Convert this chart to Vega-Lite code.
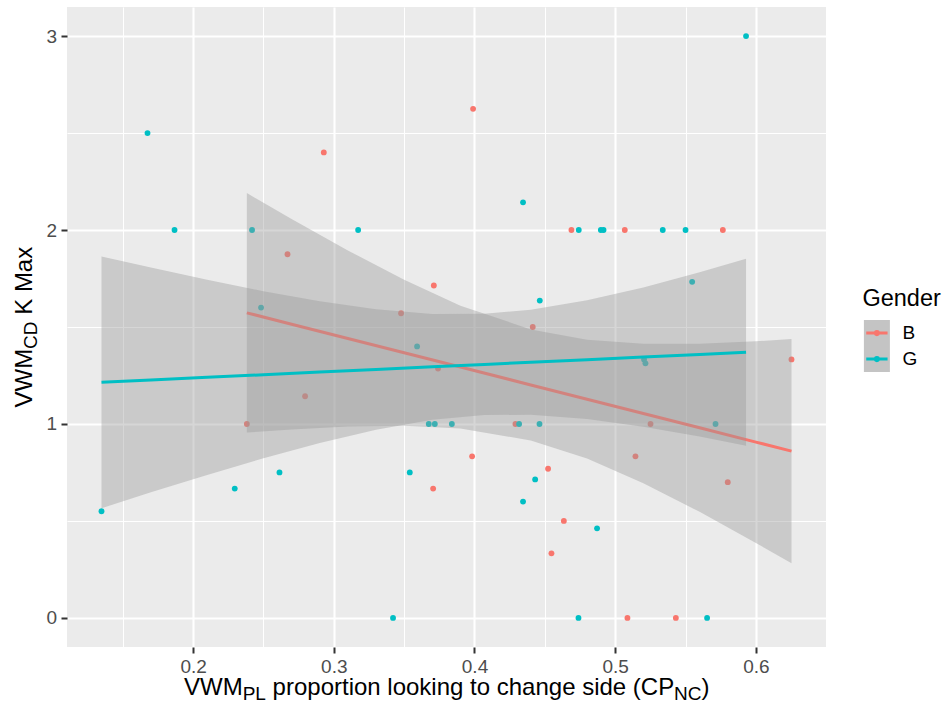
{
  "$schema": "https://vega.github.io/schema/vega-lite/v6.json",
  "width": 759,
  "height": 640,
  "autosize": {"type": "none"},
  "padding": {"left": 67, "top": 7, "right": 118, "bottom": 64},
  "background": "white",
  "config": {
    "view": {"fill": "#EBEBEB", "stroke": null},
    "font": "Liberation Sans",
    "axis": {"domain": false, "titleFontWeight": "normal", "titleColor": "black", "titleFont": "Liberation Sans", "labelFont": "Liberation Sans"},
    "legend": {"titleFont": "Liberation Sans", "labelFont": "Liberation Sans"}
  },
  "datasets": {
    "pts": [
      {"Gender": "B", "cp": 0.2382, "kmax": 1},
      {"Gender": "B", "cp": 0.2671, "kmax": 1.875},
      {"Gender": "B", "cp": 0.2796, "kmax": 1.143},
      {"Gender": "B", "cp": 0.2929, "kmax": 2.4},
      {"Gender": "B", "cp": 0.3478, "kmax": 1.571},
      {"Gender": "B", "cp": 0.3706, "kmax": 0.667},
      {"Gender": "B", "cp": 0.3711, "kmax": 1.714},
      {"Gender": "B", "cp": 0.3741, "kmax": 1.286},
      {"Gender": "B", "cp": 0.3983, "kmax": 0.833},
      {"Gender": "B", "cp": 0.399, "kmax": 2.625},
      {"Gender": "B", "cp": 0.4291, "kmax": 1},
      {"Gender": "B", "cp": 0.4414, "kmax": 1.5},
      {"Gender": "B", "cp": 0.4523, "kmax": 0.769},
      {"Gender": "B", "cp": 0.4547, "kmax": 0.333},
      {"Gender": "B", "cp": 0.4635, "kmax": 0.5},
      {"Gender": "B", "cp": 0.4689, "kmax": 2},
      {"Gender": "B", "cp": 0.5068, "kmax": 2},
      {"Gender": "B", "cp": 0.5087, "kmax": 0},
      {"Gender": "B", "cp": 0.5144, "kmax": 0.833},
      {"Gender": "B", "cp": 0.5251, "kmax": 1},
      {"Gender": "B", "cp": 0.5431, "kmax": 0},
      {"Gender": "B", "cp": 0.5765, "kmax": 2},
      {"Gender": "B", "cp": 0.58, "kmax": 0.7},
      {"Gender": "B", "cp": 0.6253, "kmax": 1.333},
      {"Gender": "G", "cp": 0.1349, "kmax": 0.55},
      {"Gender": "G", "cp": 0.1676, "kmax": 2.5},
      {"Gender": "G", "cp": 0.1868, "kmax": 2},
      {"Gender": "G", "cp": 0.2296, "kmax": 0.667},
      {"Gender": "G", "cp": 0.2419, "kmax": 2},
      {"Gender": "G", "cp": 0.2483, "kmax": 1.6},
      {"Gender": "G", "cp": 0.2614, "kmax": 0.75},
      {"Gender": "G", "cp": 0.3173, "kmax": 2},
      {"Gender": "G", "cp": 0.3421, "kmax": 0},
      {"Gender": "G", "cp": 0.354, "kmax": 0.75},
      {"Gender": "G", "cp": 0.3592, "kmax": 1.4},
      {"Gender": "G", "cp": 0.3675, "kmax": 1},
      {"Gender": "G", "cp": 0.3718, "kmax": 1},
      {"Gender": "G", "cp": 0.3839, "kmax": 1},
      {"Gender": "G", "cp": 0.4317, "kmax": 1},
      {"Gender": "G", "cp": 0.4345, "kmax": 0.6},
      {"Gender": "G", "cp": 0.4345, "kmax": 2.143},
      {"Gender": "G", "cp": 0.4431, "kmax": 0.714},
      {"Gender": "G", "cp": 0.4462, "kmax": 1},
      {"Gender": "G", "cp": 0.4464, "kmax": 1.636},
      {"Gender": "G", "cp": 0.4739, "kmax": 0},
      {"Gender": "G", "cp": 0.4741, "kmax": 2},
      {"Gender": "G", "cp": 0.4871, "kmax": 0.462},
      {"Gender": "G", "cp": 0.4898, "kmax": 2},
      {"Gender": "G", "cp": 0.4917, "kmax": 2},
      {"Gender": "G", "cp": 0.5205, "kmax": 1.333},
      {"Gender": "G", "cp": 0.5215, "kmax": 1.3125},
      {"Gender": "G", "cp": 0.5338, "kmax": 2},
      {"Gender": "G", "cp": 0.55, "kmax": 2},
      {"Gender": "G", "cp": 0.5547, "kmax": 1.733},
      {"Gender": "G", "cp": 0.5653, "kmax": 0},
      {"Gender": "G", "cp": 0.5713, "kmax": 1},
      {"Gender": "G", "cp": 0.593, "kmax": 3}
    ],
    "band": [
      {"Group": "B", "cp": 0.2382, "fit": 1.573, "lo": 0.9555, "hi": 2.1905},
      {"Group": "B", "cp": 0.27, "fit": 1.5144, "lo": 0.9718, "hi": 2.057},
      {"Group": "B", "cp": 0.31, "fit": 1.4407, "lo": 0.9866, "hi": 1.8948},
      {"Group": "B", "cp": 0.35, "fit": 1.3671, "lo": 0.9909, "hi": 1.7433},
      {"Group": "B", "cp": 0.39, "fit": 1.2934, "lo": 0.9766, "hi": 1.6102},
      {"Group": "B", "cp": 0.44, "fit": 1.2013, "lo": 0.9149, "hi": 1.4877},
      {"Group": "B", "cp": 0.48, "fit": 1.1276, "lo": 0.8214, "hi": 1.4338},
      {"Group": "B", "cp": 0.52, "fit": 1.0539, "lo": 0.6947, "hi": 1.4131},
      {"Group": "B", "cp": 0.56, "fit": 0.9802, "lo": 0.5468, "hi": 1.4136},
      {"Group": "B", "cp": 0.6, "fit": 0.9066, "lo": 0.3868, "hi": 1.4264},
      {"Group": "B", "cp": 0.6253, "fit": 0.86, "lo": 0.2817, "hi": 1.4383},
      {"Group": "G", "cp": 0.1349, "fit": 1.215, "lo": 0.566, "hi": 1.864},
      {"Group": "G", "cp": 0.17, "fit": 1.2269, "lo": 0.6473, "hi": 1.8065},
      {"Group": "G", "cp": 0.21, "fit": 1.2404, "lo": 0.7373, "hi": 1.7435},
      {"Group": "G", "cp": 0.25, "fit": 1.2539, "lo": 0.8231, "hi": 1.6847},
      {"Group": "G", "cp": 0.29, "fit": 1.2674, "lo": 0.9023, "hi": 1.6325},
      {"Group": "G", "cp": 0.33, "fit": 1.2809, "lo": 0.9706, "hi": 1.5912},
      {"Group": "G", "cp": 0.37, "fit": 1.2945, "lo": 1.0215, "hi": 1.5675},
      {"Group": "G", "cp": 0.407, "fit": 1.307, "lo": 1.0462, "hi": 1.5678},
      {"Group": "G", "cp": 0.44, "fit": 1.3181, "lo": 1.0475, "hi": 1.5887},
      {"Group": "G", "cp": 0.48, "fit": 1.3316, "lo": 1.0259, "hi": 1.6373},
      {"Group": "G", "cp": 0.52, "fit": 1.3452, "lo": 0.9862, "hi": 1.7042},
      {"Group": "G", "cp": 0.56, "fit": 1.3587, "lo": 0.9348, "hi": 1.7826},
      {"Group": "G", "cp": 0.593, "fit": 1.3698, "lo": 0.8871, "hi": 1.8525}
    ]
  },
  "layer": [
    {
      "data": {"name": "pts"},
      "mark": {"type": "point", "filled": true, "size": 34, "opacity": 1},
      "encoding": {
        "x": {"field": "cp", "type": "quantitative",
          "scale": {"domain": [0.11038, 0.64982], "nice": false, "zero": false},
          "axis": {"orient": "bottom", "values": [0.2, 0.3, 0.4, 0.5, 0.6], "format": ".1f", "grid": true, "gridColor": "white", "gridWidth": 2.1,
            "ticks": true, "tickColor": "#333333", "tickSize": 6, "tickWidth": 2, "labelFontSize": 19, "labelColor": "#4D4D4D", "labelPadding": 4.5,
            "title": "VWM", "titleFontSize": 24, "titleX": 116.5, "titleY": 47.3, "titleAlign": "left", "titleBaseline": "alphabetic", "titleAngle": 0}},
        "y": {"field": "kmax", "type": "quantitative",
          "scale": {"domain": [-0.15, 3.15], "nice": false, "zero": false},
          "axis": {"orient": "left", "values": [0, 1, 2, 3], "format": "d", "grid": true, "gridColor": "white", "gridWidth": 2.1,
            "ticks": true, "tickColor": "#333333", "tickSize": 6, "tickWidth": 2, "labelFontSize": 19, "labelColor": "#4D4D4D", "labelPadding": 4.5,
            "title": "VWM", "titleFontSize": 24, "titleAngle": -90, "titleX": -36, "titleY": 400, "titleAlign": "left", "titleBaseline": "alphabetic"}},
        "color": {"field": "Gender", "type": "nominal",
          "scale": {"domain": ["B", "G"], "range": ["#F8766D", "#00BFC4"]},
          "legend": {"orient": "none", "legendX": 795.4, "legendY": 279.6, "direction": "vertical", "title": "Gender", "titleFontSize": 23.5, "titleFontWeight": "normal", "titleColor": "black", "titlePadding": 10,
            "labelFontSize": 19, "labelColor": "black", "labelOffset": 11, "rowPadding": 0, "clipHeight": 26,
            "symbolType": "M-1,-1M1,1M-0.82,0L0.82,0M-0.12,0A0.12,0.12,0,1,0,0.12,0A0.12,0.12,0,1,0,-0.12,0Z", "symbolSize": 676, "symbolStrokeWidth": 3, "zindex": 2,
            "encode": {"symbols": {"update": {"fill": {"scale": "color", "field": "value"}, "stroke": {"scale": "color", "field": "value"}, "opacity": {"value": 1}, "strokeWidth": {"value": 3}}}}}}
      }
    },
    {
      "data": {"name": "band"},
      "transform": [{"filter": "datum.Group === 'B'"}],
      "mark": {"type": "area", "fillOpacity": 0.4, "strokeWidth": 0},
      "encoding": {
        "x": {"field": "cp", "type": "quantitative",
          "axis": {"orient": "bottom", "values": [0.15, 0.25, 0.35, 0.45, 0.55], "grid": true, "gridColor": "white", "gridWidth": 1, "ticks": false, "labels": false,
            "title": "PL", "titleFontSize": 19, "titleX": 175.2, "titleY": 52.5, "titleAlign": "left", "titleBaseline": "alphabetic", "titleAngle": 0}},
        "y": {"field": "lo", "type": "quantitative",
          "axis": {"orient": "left", "values": [0.5, 1.5, 2.5], "grid": true, "gridColor": "white", "gridWidth": 1, "ticks": false, "labels": false,
            "title": "CD", "titleFontSize": 19, "titleAngle": -90, "titleX": -31, "titleY": 341.4, "titleAlign": "left", "titleBaseline": "alphabetic"}},
        "y2": {"field": "hi"},
        "fill": {"field": "Group", "type": "nominal", "scale": {"range": ["#999999", "#999999"]},
          "legend": {"orient": "none", "legendX": 795.4, "legendY": 279.6, "direction": "vertical", "title": "Gender", "titleFontSize": 23.5, "titleFontWeight": "normal", "titleOpacity": 0, "titlePadding": 10,
            "labelFontSize": 19, "labelOpacity": 0, "labelOffset": 11, "rowPadding": 0, "clipHeight": 26,
            "symbolType": "square", "symbolSize": 676, "symbolStrokeWidth": 3, "zindex": 1,
            "encode": {"symbols": {"update": {"fill": {"value": "#999999"}, "fillOpacity": {"value": 0.58}, "opacity": {"value": 1}, "stroke": {"value": "transparent"}, "strokeWidth": {"value": 3}}}}}}
      }
    },
    {
      "data": {"name": "band"},
      "transform": [{"filter": "datum.Group === 'B'"}],
      "mark": {"type": "line", "strokeWidth": 3},
      "encoding": {
        "x": {"field": "cp", "type": "quantitative",
          "axis": {"orient": "bottom", "grid": false, "ticks": false, "labels": false,
            "title": "proportion looking to change side (CP", "titleFontSize": 24, "titleX": 205.1, "titleY": 47.3, "titleAlign": "left", "titleBaseline": "alphabetic", "titleAngle": 0}},
        "y": {"field": "fit", "type": "quantitative",
          "axis": {"orient": "left", "grid": false, "ticks": false, "labels": false,
            "title": "K Max", "titleFontSize": 24, "titleAngle": -90, "titleX": -36, "titleY": 307.3, "titleAlign": "left", "titleBaseline": "alphabetic"}},
        "color": {"field": "Group", "type": "nominal"}
      }
    },
    {
      "data": {"name": "band"},
      "transform": [{"filter": "datum.Group === 'G'"}],
      "mark": {"type": "area", "fillOpacity": 0.4, "strokeWidth": 0},
      "encoding": {
        "x": {"field": "cp", "type": "quantitative",
          "axis": {"orient": "bottom", "grid": false, "ticks": false, "labels": false,
            "title": "NC", "titleFontSize": 19, "titleX": 606.6, "titleY": 52.5, "titleAlign": "left", "titleBaseline": "alphabetic", "titleAngle": 0}},
        "y": {"field": "lo", "type": "quantitative", "axis": null},
        "y2": {"field": "hi"},
        "fill": {"field": "Group", "type": "nominal",
          "legend": {"orient": "none", "legendX": 795.4, "legendY": 279.6, "direction": "vertical", "title": "Gender", "titleFontSize": 23.5, "titleFontWeight": "normal", "titleOpacity": 0, "titlePadding": 10,
            "labelFontSize": 19, "labelOpacity": 0, "labelOffset": 11, "rowPadding": 0, "clipHeight": 26,
            "symbolType": "square", "symbolSize": 676, "symbolStrokeWidth": 3, "zindex": 1,
            "encode": {"symbols": {"update": {"fill": {"value": "#999999"}, "fillOpacity": {"value": 0.58}, "opacity": {"value": 1}, "stroke": {"value": "transparent"}, "strokeWidth": {"value": 3}}}}}}
      }
    },
    {
      "data": {"name": "band"},
      "transform": [{"filter": "datum.Group === 'G'"}],
      "mark": {"type": "line", "strokeWidth": 3},
      "encoding": {
        "x": {"field": "cp", "type": "quantitative",
          "axis": {"orient": "bottom", "grid": false, "ticks": false, "labels": false,
            "title": ")", "titleFontSize": 24, "titleX": 634, "titleY": 47.3, "titleAlign": "left", "titleBaseline": "alphabetic", "titleAngle": 0}},
        "y": {"field": "fit", "type": "quantitative", "axis": null},
        "color": {"field": "Group", "type": "nominal"}
      }
    }
  ],
  "resolve": {"axis": {"x": "independent", "y": "independent"}}
}
